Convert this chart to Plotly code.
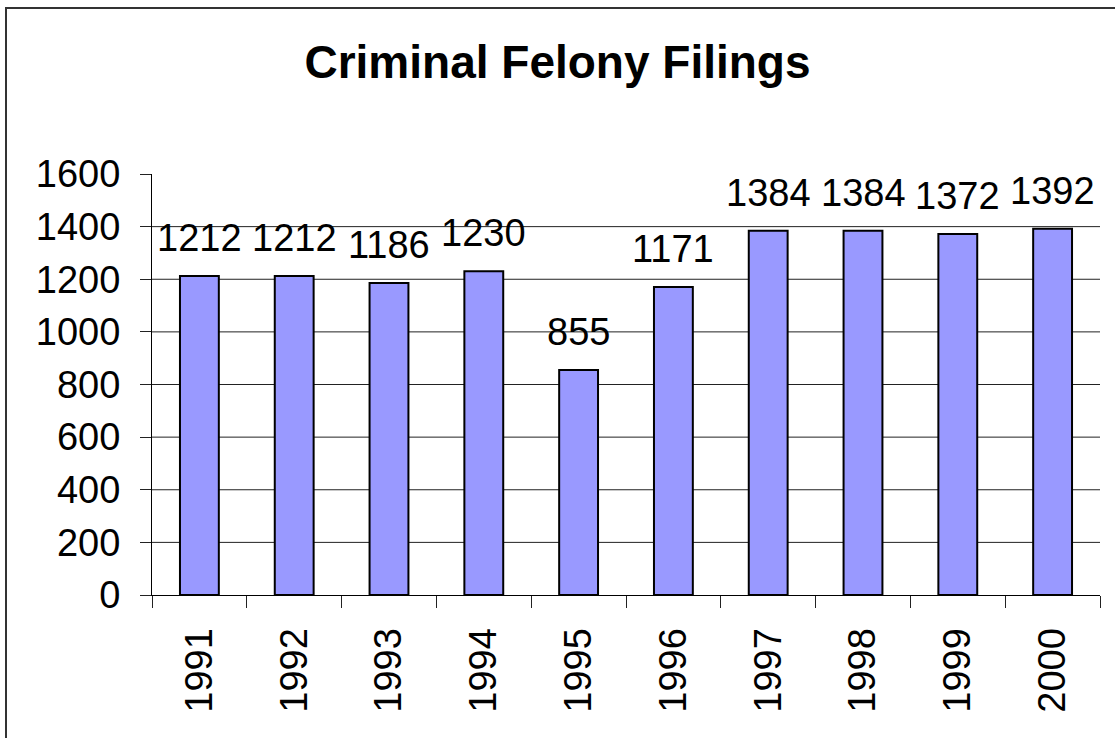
import plotly.graph_objects as go

years = ["1991", "1992", "1993", "1994", "1995", "1996", "1997", "1998", "1999", "2000"]
filings = [1212, 1212, 1186, 1230, 855, 1171, 1384, 1384, 1372, 1392]
y_ticks = [0, 200, 400, 600, 800, 1000, 1200, 1400, 1600]
title_text = "Criminal Felony Filings"

W, H = 1115, 738
L, R, T, B = 152, 15, 174, 143
pw, ph = W - L - R, H - T - B
FONT = "Arial, Liberation Sans, sans-serif"

fig = go.Figure()
fig.add_trace(go.Bar(
    x=years, y=filings,
    marker=dict(color="#9999FF", line=dict(color="#000000", width=2)),
    hoverinfo="x+y",
))

for i, v in enumerate(filings):
    fig.add_annotation(x=i, y=v, text=str(v), showarrow=False,
                       xref="x", yref="y",
                       yanchor="bottom", yshift=15,
                       font=dict(family=FONT, size=38, color="#000000"))

# grid lines (no line at top of range)
for t in y_ticks[1:-1]:
    fig.add_shape(type="line", xref="paper", yref="y", x0=0, x1=1, y0=t, y1=t,
                  line=dict(color="#222222", width=1), layer="below")

# outer frame (only top-left corner visible)
fig.add_shape(type="rect", xref="paper", yref="paper",
              x0=(6 - L) / pw, x1=(W + 20 - L) / pw,
              y0=(H - B - 8) / ph, y1=-(B + 20) / ph,
              line=dict(color="#333333", width=2), fillcolor="rgba(0,0,0,0)")

fig.update_layout(
    width=W, height=H,
    margin=dict(l=L, r=R, t=T, b=B),
    paper_bgcolor="white", plot_bgcolor="white",
    bargap=0.59,
    showlegend=False,
    title=dict(text="<b>" + title_text + "</b>", x=0.5, xanchor="center",
               y=1 - 78 / H, yanchor="bottom", yref="container",
               font=dict(family=FONT, size=46, color="#000000")),
    font=dict(family=FONT, color="#000000"),
)
fig.update_xaxes(
    type="category", categoryorder="array", categoryarray=years,
    range=[-0.5, len(years) - 0.5],
    tickangle=-90, tickson="boundaries",
    ticks="outside", ticklen=12, tickcolor="#222222", tickwidth=1,
    showline=True, linecolor="#000000", linewidth=1,
    showgrid=False, tickfont=dict(family=FONT, size=38, color="#000000"),
    ticklabelstandoff=17,
)
fig.update_yaxes(
    range=[0, 1600], tickvals=y_ticks, ticktext=[str(t) for t in y_ticks],
    ticks="outside", ticklen=11, tickcolor="#222222", tickwidth=1,
    showline=True, linecolor="#000000", linewidth=1,
    showgrid=False, zeroline=False,
    tickfont=dict(family=FONT, size=38, color="#000000"),
    ticklabelstandoff=12,
)

fig.write_html("out.html", config={"displayModeBar": False},
               post_script="document.body.style.margin='0px';document.body.style.overflow='hidden';")
